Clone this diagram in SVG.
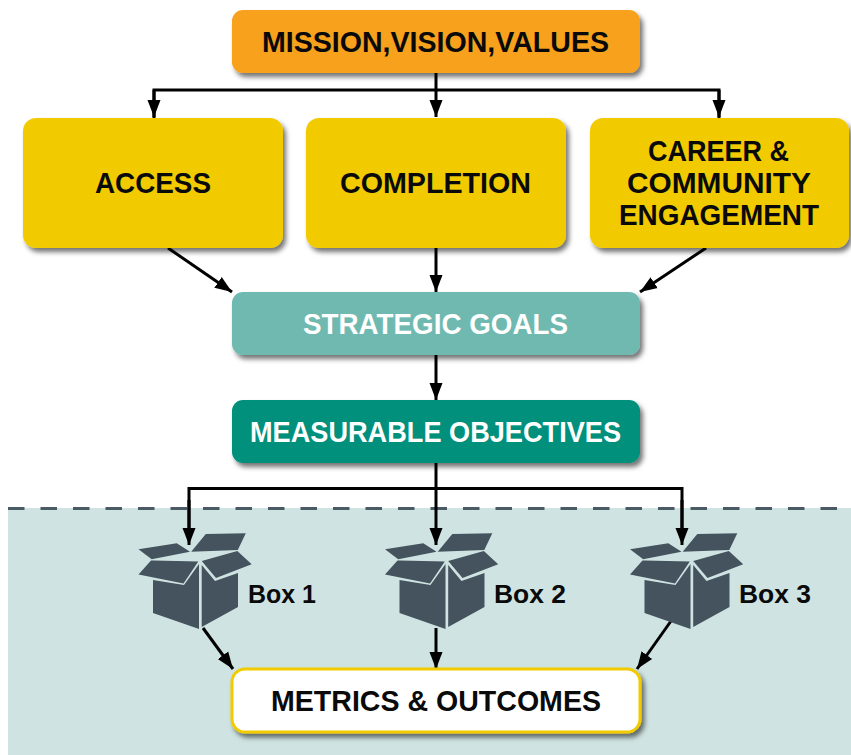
<svg xmlns="http://www.w3.org/2000/svg" xmlns:xlink="http://www.w3.org/1999/xlink" width="851" height="755" viewBox="0 0 851 755">
<style>
text{font-family:"Liberation Sans",Arial,sans-serif;font-weight:700;font-size:30px;fill:#0a0a0a}
.w{fill:#fff}
.b{font-size:26px}
.c{fill:none;stroke:#000;stroke-width:3}
.a{marker-end:url(#arrow)}
.box{fill:#44535e}
.n{filter:url(#sh)}
</style>
<defs>
<filter id="sh" x="-10%" y="-20%" width="125%" height="150%"><feDropShadow dx="3" dy="4" stdDeviation="2.5" flood-color="#000" flood-opacity=".55"/></filter>
<marker id="arrow" markerUnits="userSpaceOnUse" markerWidth="18" markerHeight="16" refX="17" refY="8" orient="auto"><path d="M0 1.500L17 8L0 14.500Z" fill="#000"/></marker>
<g id="boxicon">
<path class="box" d="M153 580L184 585L199 564V629L153 613Z"/>
<path class="box" d="M201.700 565L215 581L238 573V607L201.700 627Z"/>
<path class="box" d="M151 560.500L138.500 574.500L183.500 583.500L198.300 561.500L153.500 560.500Z"/>
<path class="box" d="M201.700 561L216 578L251.700 564.300L237.300 551Z"/>
<path class="box" d="M138.500 549.300L176.800 543.300L190 551.700L151.700 559.300Z"/>
<path class="box" d="M205.800 534L245.800 533.300L237.800 550L191.200 551.700Z"/>
</g>
</defs>
<rect id="band" x="8" y="508" width="843" height="247" fill="#cfe4e2"/>
<line id="band-edge" x1="8" y1="508.500" x2="851" y2="508.500" stroke="#4a5b66" stroke-width="3" stroke-dasharray="16.500 16"/>
<g id="connectors">
<path class="c" d="M436 73V90"/>
<path class="c" d="M154 118V90H719V118"/>
<path class="c a" d="M154 90V117"/>
<path class="c a" d="M436 90V117"/>
<path class="c a" d="M719 90V117"/>
<path class="c a" d="M168 248L232 292"/>
<path class="c a" d="M436 248V292"/>
<path class="c a" d="M706 248L640 292"/>
<path class="c a" d="M436 355V400"/>
<path class="c a" d="M436 463V545"/>
<path class="c" d="M189 540V488.500H682V540"/>
<path class="c a" d="M189 500V545"/>
<path class="c a" d="M682 500V545"/>
<path class="c a" d="M203 628L233 669"/>
<path class="c a" d="M436 628V669"/>
<path class="c a" d="M671 621L637 669"/>
</g>
<g id="mission"><rect class="n" x="232" y="10" width="408" height="63" rx="11" fill="#f7a11a"/><text x="262" y="52" textLength="347" lengthAdjust="spacingAndGlyphs">MISSION,VISION,VALUES</text></g>
<g id="access"><rect class="n" x="23" y="118" width="260" height="130" rx="13" fill="#f1cb00"/><text x="95" y="193" textLength="116" lengthAdjust="spacingAndGlyphs">ACCESS</text></g>
<g id="completion"><rect class="n" x="306" y="118" width="260" height="130" rx="13" fill="#f1cb00"/><text x="340" y="193" textLength="191" lengthAdjust="spacingAndGlyphs">COMPLETION</text></g>
<g id="career"><rect class="n" x="590" y="118" width="259" height="130" rx="13" fill="#f1cb00"/><text x="648" y="161" textLength="141" lengthAdjust="spacingAndGlyphs">CAREER &amp;</text><text x="627" y="193" textLength="184" lengthAdjust="spacingAndGlyphs">COMMUNITY</text><text x="619" y="225" textLength="200" lengthAdjust="spacingAndGlyphs">ENGAGEMENT</text></g>
<g id="strategic"><rect class="n" x="232" y="292" width="408" height="63" rx="11" fill="#70b9b0"/><text class="w" x="303" y="334" textLength="265" lengthAdjust="spacingAndGlyphs">STRATEGIC GOALS</text></g>
<g id="measurable"><rect class="n" x="232" y="400" width="408" height="63" rx="11" fill="#00907c"/><text class="w" x="250" y="442" textLength="371" lengthAdjust="spacingAndGlyphs">MEASURABLE OBJECTIVES</text></g>
<g id="box1"><use xlink:href="#boxicon" href="#boxicon"/><text class="b" x="248" y="603" textLength="68" lengthAdjust="spacingAndGlyphs">Box 1</text></g>
<g id="box2"><use xlink:href="#boxicon" href="#boxicon" x="246.500"/><text class="b" x="494" y="603" textLength="72" lengthAdjust="spacingAndGlyphs">Box 2</text></g>
<g id="box3"><use xlink:href="#boxicon" href="#boxicon" x="491.500"/><text class="b" x="739" y="603" textLength="72" lengthAdjust="spacingAndGlyphs">Box 3</text></g>
<g id="metrics"><rect class="n" x="232" y="669" width="408" height="63" rx="13" fill="#fff" stroke="#f1cb00" stroke-width="3"/><text x="271" y="711" textLength="330" lengthAdjust="spacingAndGlyphs">METRICS &amp; OUTCOMES</text></g>
</svg>
